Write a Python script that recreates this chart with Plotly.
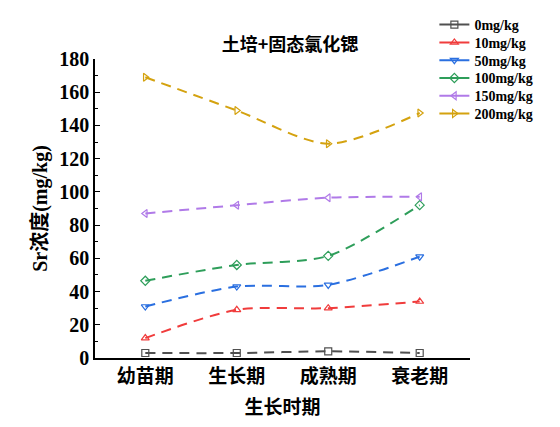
import plotly.graph_objects as go

stages = ["幼苗期", "生长期", "成熟期", "衰老期"]
names = ["0mg/kg", "10mg/kg", "50mg/kg", "100mg/kg", "150mg/kg", "200mg/kg"]
s0 = [3, 3, 4, 3]
s10 = [12, 29, 30, 34]
s50 = [31, 43, 44, 61]
s100 = [46.5, 56, 61.5, 92]
s150 = [87, 92, 96.5, 97]
s200 = [169, 149, 129, 147.5]
series = [s0, s10, s50, s100, s150, s200]

colors = ["#505050", "#F03C3C", "#2A6FE0", "#2E9E5A", "#B07AE8", "#D4A20F"]
symbols = ["square-open", "triangle-up-open", "triangle-down-open",
           "diamond-open", "triangle-left-open", "triangle-right-open"]

font_main = "Liberation Serif, Noto Sans CJK SC, serif"
cjk = "Noto Sans CJK SC"

fig = go.Figure()
for n, v, c, s in zip(names, series, colors, symbols):
    fig.add_trace(go.Scatter(
        x=stages, y=v, name=n, mode="lines+markers", showlegend=False,
        line=dict(color=c, width=2, dash="10px,7px", shape="spline", smoothing=0.8),
        marker=dict(symbol=s, size=7, color=c, line=dict(width=1.2, color=c)),
    ))

# legend entries (solid line samples), one legend per entry for tight spacing
legend_layout = {}
row_step = 17.8
for i, (n, c, s) in enumerate(zip(names, colors, symbols)):
    key = "legend" if i == 0 else f"legend{i + 1}"
    fig.add_trace(go.Scatter(
        x=[None], y=[None], name=n, mode="lines+markers", legend=key,
        line=dict(color=c, width=2),
        marker=dict(symbol=s, size=7, color=c, line=dict(width=1.2, color=c)),
    ))
    fy = 17 + i * row_step
    legend_layout[key] = dict(
        x=0.905, y=(350 - fy) / 299, xanchor="left", yanchor="middle",
        font=dict(size=14, family=font_main, weight="bold"),
        bgcolor="rgba(0,0,0,0)", itemwidth=30,
    )

fig.update_layout(
    width=552, height=419,
    margin=dict(l=87, r=90, t=51, b=69, autoexpand=False),
    paper_bgcolor="white", plot_bgcolor="white",
    font=dict(family=font_main, color="black"),
    title=dict(text="<b>土培+固态氯化锶</b>", x=(290 - 8) / 552, xref="container",
               xanchor="center", y=1 - 37 / 419, yanchor="middle",
               font=dict(size=18, family=cjk)),
    showlegend=True,
    **legend_layout,
)
fig.update_xaxes(
    range=[-0.55, 3.55], showline=True, linecolor="black", linewidth=1.5,
    ticks="", showgrid=False, zeroline=False,
    tickfont=dict(size=19, family=cjk, weight="bold"),
    title=dict(text="生长时期", font=dict(size=19, family=cjk, weight="bold"), standoff=14),
)
fig.update_yaxes(
    range=[0, 180], dtick=20, showline=True, linecolor="black", linewidth=1.5,
    ticks="inside", ticklen=5, tickcolor="black", showgrid=False, zeroline=False,
    minor=dict(ticks="inside", ticklen=3, dtick=10, tickcolor="black"),
    tickfont=dict(size=20, family=font_main, weight="bold"),
    title=dict(text="Sr浓度(mg/kg)", font=dict(size=20, family=font_main, weight="bold"), standoff=6),
)
fig.write_html("out.html")
